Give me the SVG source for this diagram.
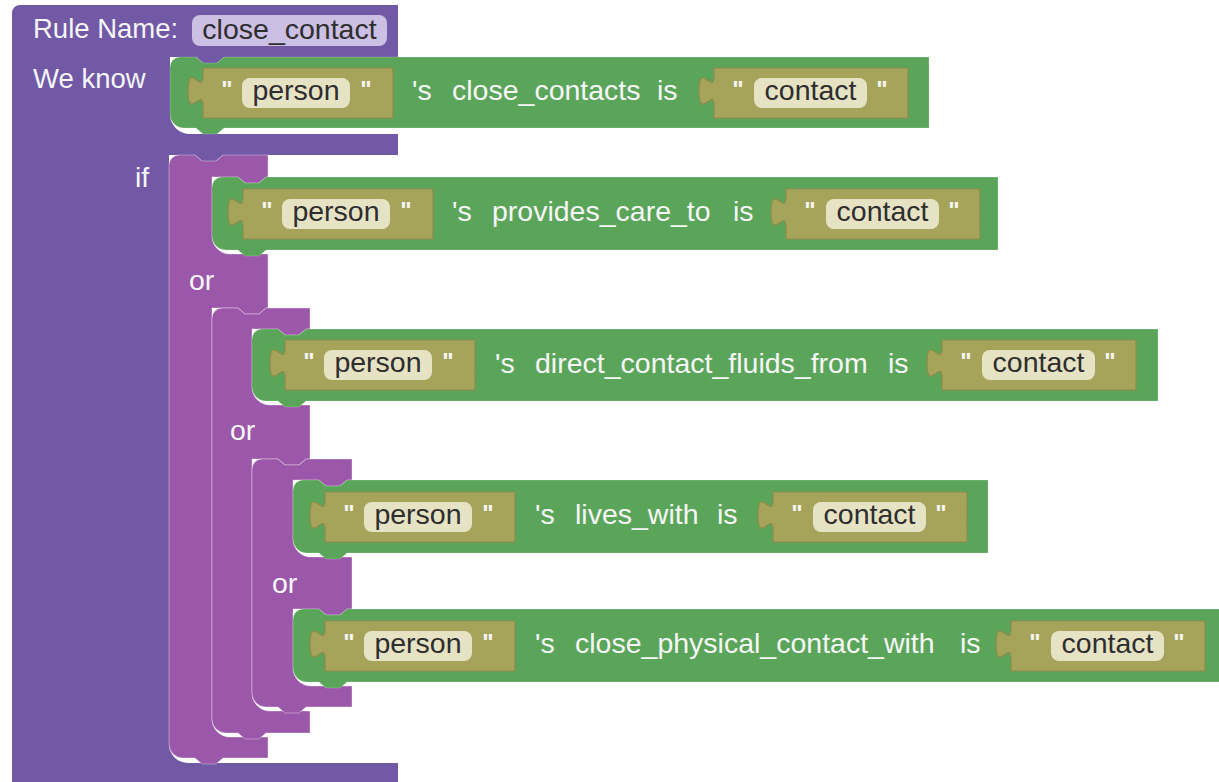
<svg xmlns="http://www.w3.org/2000/svg" width="1219" height="782" viewBox="0 0 1219 782">
  <style>
    .rule { fill: #7159a6; }
    .orblk { fill: #9b57a9; stroke: rgba(255,255,255,0.35); stroke-width: 1; }
    .fact { fill: #5ba55b; stroke: rgba(255,255,255,0.18); stroke-width: 1; }
    .val { fill: #a6a45b; stroke: #8d8b48; stroke-width: 1.2; }
    .pill { fill: #e6e3c5; }
    .namepill { fill: #cbbfe4; }
    text { font-family: "Liberation Sans", Arial, sans-serif; font-size: 28.5px; }
    .head { font-size: 27.5px; }
    .lbl { fill: #f6f6f6; }
    .dark { fill: #2e2e2e; text-anchor: middle; }
    .q { fill: #f6f6f6; text-anchor: middle; font-weight: bold; font-size: 24px; }
  </style>
  <defs>
    <!-- string value block: output tab on the left, body 190 wide -->
    <g id="valPerson">
      <path class="val" d="M0,0 V8 c0,20 -15,-16 -15,15 s15,-5 15,15 V50 H190 V0 Z"/>
      <rect class="pill" x="39" y="10" width="108" height="30" rx="8"/>
      <text class="q" x="24" y="30">"</text>
      <text class="dark" x="93" y="32">person</text>
      <text class="q" x="163" y="30">"</text>
    </g>
    <g id="valContact">
      <path class="val" d="M0,0 V8 c0,20 -15,-16 -15,15 s15,-5 15,15 V50 H194 V0 Z"/>
      <rect class="pill" x="40" y="10" width="113" height="30" rx="8"/>
      <text class="q" x="24" y="30">"</text>
      <text class="dark" x="96.5" y="32">contact</text>
      <text class="q" x="168" y="30">"</text>
    </g>
  </defs>

  <rect width="1219" height="782" fill="#ffffff"/>

  <!-- rule block -->
  <g id="rule">
    <path class="rule" d="M12,13 A8,8 0 0 1 20,5 H398 V57 H224 l-7,6 h-14 l-7,-6 H170 V114 A20,20 0 0 0 190,134 H398 V155 H223 l-7,6 h-14 l-7,-6 H169 V744 A19,19 0 0 0 188,763 H398 V790 H12 Z"/>
    <text class="lbl head" x="33" y="38">Rule Name:</text>
    <rect class="namepill" x="192" y="15" width="195" height="31" rx="8"/>
    <text class="dark" x="289.5" y="39">close_contact</text>
    <text class="lbl head" x="33" y="88">We know</text>
    <text class="lbl" x="135" y="187">if</text>
  </g>

  <!-- conclusion fact -->
  <g id="fact-close-contacts">
    <path class="fact" d="M170,67 A10,10 0 0 1 180,57 H196 l7,6 h14 l7,-6 H929 V128 H224 l-7,6 h-14 l-7,-6 H184 A14,14 0 0 1 170,114 Z"/>
    <use href="#valPerson" x="203" y="68"/>
    <text class="lbl" y="100"><tspan x="412">'s</tspan><tspan x="452">close_contacts</tspan><tspan x="657">is</tspan></text>
    <use href="#valContact" x="714" y="68"/>
  </g>

  <!-- outer or -->
  <g id="or-1">
    <path class="orblk" d="M169,165 A10,10 0 0 1 179,155 H195 l7,6 h14 l7,-6 H268 V177 H266 l-7,6 h-14 l-7,-6 H212 V236 A18,18 0 0 0 230,254 H268 V308 H266 l-7,6 h-14 l-7,-6 H212 V719 A18,18 0 0 0 230,737 H268 V758 H223 l-7,6 h-14 l-7,-6 H183 A14,14 0 0 1 169,744 Z"/>
    <text class="lbl" x="189" y="290">or</text>
  </g>

  <g id="fact-provides-care-to">
    <path class="fact" d="M212,187 A10,10 0 0 1 222,177 H238 l7,6 h14 l7,-6 H998 V250 H266 l-7,6 h-14 l-7,-6 H226 A14,14 0 0 1 212,236 Z"/>
    <use href="#valPerson" x="243" y="189"/>
    <text class="lbl" y="221"><tspan x="452">'s</tspan><tspan x="492">provides_care_to</tspan><tspan x="733">is</tspan></text>
    <use href="#valContact" x="786" y="189"/>
  </g>

  <!-- middle or -->
  <g id="or-2">
    <path class="orblk" d="M212,318 A10,10 0 0 1 222,308 H238 l7,6 h14 l7,-6 H310 V329 H306 l-7,6 h-14 l-7,-6 H252 V387 A18,18 0 0 0 270,405 H310 V459 H306 l-7,6 h-14 l-7,-6 H252 V693 A18,18 0 0 0 270,711 H310 V733 H266 l-7,6 h-14 l-7,-6 H226 A14,14 0 0 1 212,719 Z"/>
    <text class="lbl" x="230" y="440">or</text>
  </g>

  <g id="fact-direct-contact-fluids-from">
    <path class="fact" d="M252,339 A10,10 0 0 1 262,329 H278 l7,6 h14 l7,-6 H1158 V401 H306 l-7,6 h-14 l-7,-6 H266 A14,14 0 0 1 252,387 Z"/>
    <use href="#valPerson" x="285" y="340"/>
    <text class="lbl" y="373"><tspan x="495">'s</tspan><tspan x="535">direct_contact_fluids_from</tspan><tspan x="888">is</tspan></text>
    <use href="#valContact" x="942" y="340"/>
  </g>

  <!-- inner or -->
  <g id="or-3">
    <path class="orblk" d="M252,469 A10,10 0 0 1 262,459 H278 l7,6 h14 l7,-6 H352 V480 H347 l-7,6 h-14 l-7,-6 H293 V539 A18,18 0 0 0 311,557 H352 V609 H347 l-7,6 h-14 l-7,-6 H293 V668 A18,18 0 0 0 311,686 H352 V707 H306 l-7,6 h-14 l-7,-6 H266 A14,14 0 0 1 252,693 Z"/>
    <text class="lbl" x="272" y="593">or</text>
  </g>

  <g id="fact-lives-with">
    <path class="fact" d="M293,490 A10,10 0 0 1 303,480 H319 l7,6 h14 l7,-6 H988 V553 H347 l-7,6 h-14 l-7,-6 H307 A14,14 0 0 1 293,539 Z"/>
    <use href="#valPerson" x="325" y="492"/>
    <text class="lbl" y="524"><tspan x="535">'s</tspan><tspan x="575">lives_with</tspan><tspan x="717">is</tspan></text>
    <use href="#valContact" x="773" y="492"/>
  </g>

  <g id="fact-close-physical-contact-with">
    <path class="fact" d="M293,619 A10,10 0 0 1 303,609 H319 l7,6 h14 l7,-6 H1230 V682 H347 l-7,6 h-14 l-7,-6 H307 A14,14 0 0 1 293,668 Z"/>
    <use href="#valPerson" x="325" y="621"/>
    <text class="lbl" y="653"><tspan x="535">'s</tspan><tspan x="575">close_physical_contact_with</tspan><tspan x="960">is</tspan></text>
    <use href="#valContact" x="1011" y="621"/>
  </g>
</svg>
